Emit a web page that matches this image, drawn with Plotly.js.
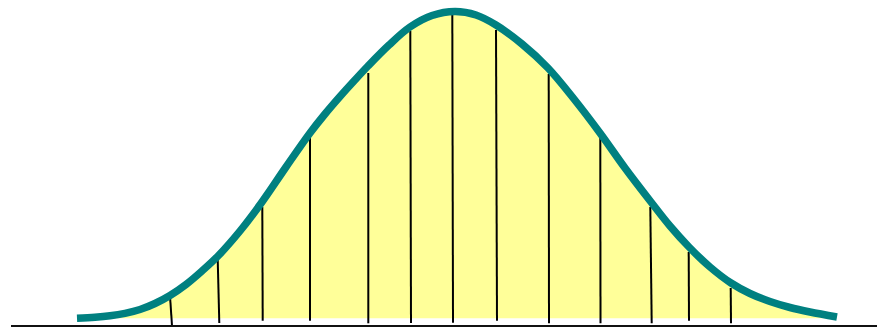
<!DOCTYPE html>
<html>
<head>
<meta charset="utf-8">
<script src="https://cdn.plot.ly/plotly-3.0.1.min.js"></script>
<style>
  html, body { margin: 0; padding: 0; background: #ffffff; }
  #chart { width: 877px; height: 328px; }
</style>
</head>
<body>
<div id="chart"></div>
<script>
// Bell curve (x position, height above bottom edge)
var curveX = [77, 95, 110, 125, 140, 155, 170, 186, 202, 218, 240, 262, 286, 310, 325, 340, 354, 368, 389, 410, 432, 455,
              476, 496, 522, 548, 574, 600, 625, 651, 670, 689, 710, 731, 750, 770, 790, 810, 837];
var curveY = [9.7, 10.7, 12.2, 14.7, 18.5, 24.5, 32.5, 43.5, 57, 72, 97, 126, 161, 195, 214, 231.5, 247, 262, 283, 301, 312.5, 316.5,
              313, 303, 284, 260, 229, 195, 160, 126, 102, 81, 61, 45, 34.5, 26.5, 20.5, 16, 11];

// Level of the bottom of the shaded area
var fillBaseX = [77, 837];
var fillBaseY = [9.7, 9.7];

// Vertical ordinate lines under the curve
var ordXBottom = [172, 219.3, 262.7, 310, 368.3, 411, 453, 497, 549, 600.5, 651.7, 689, 731];
var ordXTop    = [170, 217.7, 262.3, 310, 368.3, 410.3, 452.3, 496, 548.7, 600.3, 650.3, 688.7, 730.7];
var ordYBottom = [2.4, 5, 7.3, 7.3, 4.7, 5, 5.3, 7.3, 4.7, 4.7, 4.7, 7.3, 4.7];
var ordYTop    = [32, 69, 121, 193, 255, 297, 316, 298, 254, 190, 121, 76, 40];

// Horizontal axis line
var axisX = [11, 877];
var axisY = [2, 2];

var segX = [], segY = [];
for (var i = 0; i < ordXBottom.length; i++) {
  segX.push(ordXBottom[i], ordXTop[i], null);
  segY.push(ordYBottom[i], ordYTop[i], null);
}

var traces = [
  { x: fillBaseX, y: fillBaseY, mode: 'lines', line: { width: 0, color: 'rgba(0,0,0,0)' }, hoverinfo: 'skip' },
  { x: curveX, y: curveY, mode: 'lines', fill: 'tonexty', fillcolor: '#FFFF99',
    line: { width: 0, shape: 'spline', smoothing: 1, color: 'rgba(0,0,0,0)' }, hoverinfo: 'skip' },
  { x: segX, y: segY, mode: 'lines', line: { width: 2, color: '#000000' }, connectgaps: false, hoverinfo: 'skip' },
  { x: axisX, y: axisY, mode: 'lines', line: { width: 2, color: '#111111' }, hoverinfo: 'skip' },
  { x: curveX, y: curveY, mode: 'lines', line: { width: 7.5, color: '#008080', shape: 'spline', smoothing: 1 }, hoverinfo: 'skip' }
];

var layout = {
  width: 877, height: 328,
  margin: { l: 0, r: 0, t: 0, b: 0, pad: 0 },
  paper_bgcolor: '#ffffff', plot_bgcolor: '#ffffff',
  showlegend: false,
  xaxis: { range: [0, 877], visible: false, fixedrange: true },
  yaxis: { range: [0, 328], visible: false, fixedrange: true }
};

Plotly.newPlot('chart', traces, layout, { staticPlot: true, displayModeBar: false });
</script>
</body>
</html>
